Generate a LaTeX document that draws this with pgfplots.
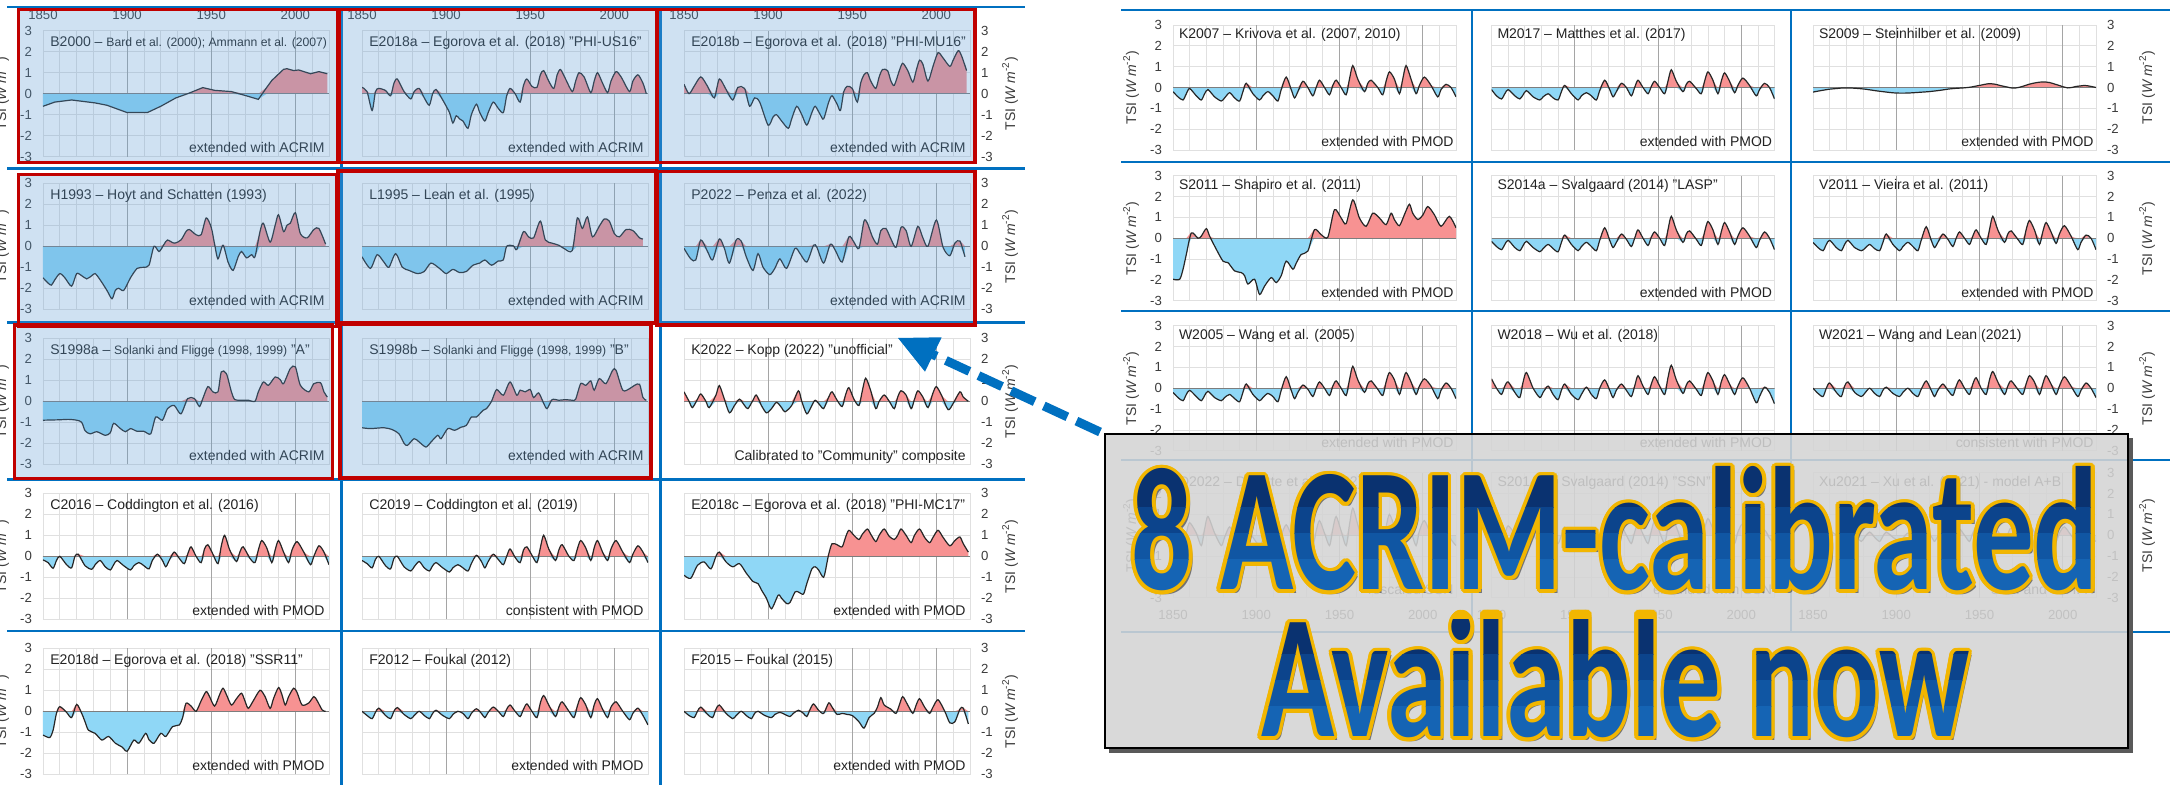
\documentclass[border=0pt]{standalone}
\usepackage{fontspec}
\setmainfont{Liberation Sans}
\newfontfamily\carlito{Carlito}
\usepackage{pgfplots}
\pgfplotsset{compat=1.18}
\usepackage{pgfplotstable}

\definecolor{posc}{RGB}{247,146,146}
\definecolor{negc}{RGB}{143,215,246}
\definecolor{gridc}{RGB}{224,224,224}
\definecolor{majc}{RGB}{165,165,165}
\definecolor{zeroc}{RGB}{125,125,125}
\definecolor{tickc}{RGB}{60,60,60}
\definecolor{titlec}{RGB}{35,35,35}
\definecolor{sepblue}{RGB}{0,112,192}
\definecolor{hlblue}{RGB}{91,155,213}
\definecolor{hlred}{RGB}{192,0,0}
\definecolor{boxgray}{RGB}{212,212,212}
\definecolor{gold}{RGB}{242,182,0}
\definecolor{navA}{RGB}{10,50,112}
\definecolor{navB}{RGB}{12,68,140}
\definecolor{navC}{RGB}{16,86,163}
\definecolor{navD}{RGB}{21,100,180}

% ---------- reconstructed TSI anomaly series (W m^-2) ----------
\pgfplotstableread[row sep=\\]{x y\\
1850 -0.6\\1857 -0.4\\1867 -0.3\\1881 -0.44\\1888 -0.55\\1900 -0.9\\1912 -0.9\\1920 -0.6\\1929 -0.2\\1936 0.0\\1945 0.29\\1952 0.16\\1962 0.1\\1970 -0.08\\1978 -0.27\\1983 0.3\\1986 0.63\\1993 1.16\\1995 1.19\\1999 1.1\\2002 1.13\\2009 0.95\\2014 1.05\\2019 0.95\\}\Bard
\pgfplotstableread[row sep=\\]{x y\\
1850 0.3\\1853 0.1\\1856 -0.8\\1858 0.1\\1860 0.25\\1864 0.15\\1867 -0.1\\1869 0.5\\1871 0.7\\1875 0.1\\1879 -0.25\\1881 0.1\\1884 0.25\\1887 -0.2\\1890 -0.55\\1892 0.0\\1894 0.2\\1898 -0.3\\1902 -0.9\\1904 -1.4\\1906 -1.05\\1908 -1.2\\1910 -1.3\\1913 -1.65\\1915 -1.0\\1918 -0.5\\1920 -0.9\\1923 -1.3\\1925 -0.9\\1928 -0.4\\1931 -0.7\\1934 -0.9\\1936 -0.1\\1938 0.25\\1941 0.0\\1944 -0.4\\1946 0.4\\1948 0.7\\1951 0.35\\1954 0.3\\1956 0.9\\1958 1.1\\1961 0.6\\1964 0.25\\1966 0.9\\1968 1.15\\1971 0.7\\1975 0.1\\1977 0.6\\1979 1.0\\1982 0.8\\1986 0.05\\1988 0.6\\1990 1.0\\1993 0.5\\1996 0.05\\1998 0.6\\2001 1.05\\2004 0.8\\2009 0.1\\2011 0.6\\2014 0.9\\2017 0.5\\2019 0.0\\}\EgoA
\pgfplotstableread[row sep=\\]{x y\\
1850 0.45\\1853 0.0\\1856 0.35\\1860 0.8\\1864 0.35\\1868 -0.2\\1871 0.7\\1875 0.2\\1879 -0.3\\1882 0.3\\1886 0.25\\1889 -0.6\\1892 -0.2\\1895 -0.4\\1900 -1.5\\1903 -1.1\\1905 -1.0\\1908 -1.3\\1912 -1.65\\1914 -1.2\\1917 -0.6\\1920 -1.0\\1923 -1.5\\1926 -0.9\\1928 -0.6\\1931 -1.0\\1933 -1.2\\1936 -0.4\\1938 -0.1\\1941 -0.5\\1943 -0.8\\1945 0.1\\1947 0.35\\1950 0.25\\1953 -0.4\\1955 0.5\\1957 0.9\\1959 1.0\\1961 0.6\\1964 0.25\\1966 0.8\\1968 1.15\\1971 1.1\\1973 0.6\\1975 0.4\\1978 1.1\\1980 1.45\\1983 1.1\\1986 0.55\\1988 1.1\\1990 1.6\\1992 1.4\\1995 0.6\\1998 1.3\\2001 1.95\\2004 1.7\\2008 1.3\\2010 1.6\\2013 2.05\\2015 1.8\\2018 1.1\\}\EgoB
\pgfplotstableread[row sep=\\]{x y\\
1850 -1.5\\1853 -1.75\\1855 -1.85\\1857 -1.6\\1860 -1.3\\1863 -1.5\\1867 -1.9\\1870 -1.3\\1873 -1.4\\1876 -1.55\\1879 -1.4\\1881 -1.3\\1884 -1.6\\1888 -2.1\\1891 -2.5\\1893 -2.1\\1895 -2.0\\1898 -2.1\\1902 -1.5\\1906 -1.05\\1910 -1.0\\1913 -0.9\\1916 0.0\\1919 -0.25\\1922 0.1\\1924 0.3\\1928 0.15\\1932 0.3\\1935 0.7\\1937 0.8\\1941 0.55\\1944 0.55\\1947 1.35\\1950 0.9\\1952 0.1\\1954 -0.6\\1957 0.05\\1960 -0.75\\1963 -1.15\\1966 -0.5\\1968 -0.25\\1971 -0.55\\1974 -0.4\\1976 -0.5\\1979 0.7\\1981 1.1\\1985 0.2\\1988 1.0\\1990 1.5\\1993 0.7\\1995 1.0\\1997 1.1\\2000 1.6\\2003 0.6\\2007 0.4\\2011 0.8\\2014 0.85\\2018 0.1\\}\Hoyt
\pgfplotstableread[row sep=\\]{x y\\
1850 -0.5\\1855 -1.05\\1859 -0.4\\1863 -0.75\\1866 -1.0\\1870 -0.35\\1874 -1.0\\1878 -1.15\\1883 -1.3\\1887 -1.2\\1891 -0.8\\1896 -1.05\\1900 -1.3\\1904 -1.1\\1908 -1.25\\1912 -1.2\\1916 -0.9\\1920 -0.8\\1923 -0.65\\1927 -0.9\\1931 -0.7\\1934 -0.65\\1936 0.0\\1940 0.02\\1942 -0.15\\1946 0.7\\1949 0.45\\1952 0.4\\1956 1.2\\1959 0.3\\1963 0.15\\1967 0.05\\1970 -0.1\\1975 -0.2\\1978 1.35\\1981 0.85\\1984 1.4\\1987 0.45\\1991 0.95\\1994 1.3\\1997 1.2\\2000 0.6\\2003 0.45\\2007 0.8\\2011 0.75\\2015 0.4\\2017 0.35\\}\Lean
\pgfplotstableread[row sep=\\]{x y\\
1850 -0.1\\1854 -0.6\\1857 -0.65\\1860 0.3\\1864 -0.25\\1867 -0.65\\1871 0.35\\1874 -0.1\\1877 -0.8\\1881 0.3\\1884 0.25\\1887 -0.5\\1891 -1.15\\1894 -0.35\\1897 -1.0\\1901 -1.35\\1904 -1.05\\1907 -0.6\\1911 -1.05\\1916 -0.1\\1919 -0.35\\1923 -0.75\\1927 0.05\\1929 -0.05\\1933 -0.8\\1937 0.1\\1940 -0.2\\1944 -0.75\\1948 0.45\\1951 0.2\\1954 -0.1\\1957 1.2\\1959 1.1\\1962 0.45\\1965 0.1\\1967 0.75\\1970 0.85\\1973 0.35\\1976 -0.05\\1979 0.9\\1982 0.75\\1985 0.0\\1989 0.95\\1992 0.4\\1995 0.0\\2000 1.25\\2004 -0.05\\2008 -0.45\\2011 0.15\\2014 0.25\\2017 -0.5\\}\Penza
\pgfplotstableread[row sep=\\]{x y\\
1850 -0.9\\1860 -0.88\\1865 -0.86\\1870 -0.9\\1873 -1.0\\1875 -1.4\\1878 -1.55\\1882 -1.45\\1887 -1.62\\1890 -1.5\\1892 -1.05\\1896 -1.3\\1899 -1.45\\1902 -1.3\\1906 -1.43\\1910 -1.43\\1914 -1.55\\1917 -0.75\\1921 -0.9\\1924 -0.35\\1928 -0.2\\1932 -0.6\\1936 0.13\\1940 0.13\\1943 -0.25\\1945 0.13\\1948 0.7\\1951 0.45\\1954 0.45\\1956 1.4\\1959 1.32\\1962 0.45\\1964 0.08\\1968 0.05\\1972 0.05\\1976 0.0\\1978 0.45\\1981 0.92\\1984 0.76\\1988 1.16\\1991 1.03\\1993 0.84\\1997 1.56\\2000 1.64\\2003 0.76\\2008 0.45\\2011 0.84\\2015 0.88\\2017 0.45\\2019 0.2\\}\SolA
\pgfplotstableread[row sep=\\]{x y\\
1850 -1.26\\1855 -1.3\\1863 -1.26\\1868 -1.35\\1872 -1.55\\1875 -2.0\\1877 -2.1\\1881 -1.78\\1884 -1.94\\1888 -2.18\\1891 -1.94\\1895 -1.62\\1897 -1.78\\1901 -1.3\\1905 -1.38\\1909 -1.23\\1912 -1.15\\1915 -0.75\\1918 -0.75\\1922 -0.43\\1924 -0.35\\1927 0.0\\1930 0.56\\1934 0.29\\1938 0.92\\1942 0.29\\1944 0.53\\1947 0.45\\1950 0.56\\1952 0.18\\1955 0.4\\1958 -0.1\\1960 -0.35\\1963 0.08\\1967 0.05\\1971 0.08\\1975 0.05\\1977 0.1\\1980 0.84\\1983 0.76\\1986 0.97\\1988 0.53\\1991 1.08\\1995 0.84\\1999 1.48\\2001 1.48\\2005 0.53\\2009 0.6\\2012 0.76\\2015 0.81\\2017 0.18\\2019 0.05\\}\SolB
\pgfplotstableread[row sep=\\]{x y\\
1850 0.45\\1853 0.0\\1855 -0.3\\1858 0.1\\1860 0.35\\1863 0.0\\1865 -0.3\\1869 0.3\\1871 0.75\\1874 0.1\\1877 -0.55\\1880 -0.2\\1883 0.1\\1886 -0.2\\1888 -0.35\\1891 0.05\\1893 0.3\\1896 -0.2\\1899 -0.55\\1902 -0.35\\1905 -0.05\\1908 -0.3\\1910 -0.5\\1914 -0.2\\1918 0.5\\1920 0.0\\1923 -0.6\\1926 -0.2\\1928 0.05\\1931 -0.2\\1933 -0.35\\1936 0.2\\1938 0.45\\1941 0.05\\1944 -0.25\\1946 0.3\\1948 0.65\\1951 0.1\\1954 -0.2\\1956 0.5\\1958 1.1\\1961 0.5\\1964 -0.35\\1966 0.0\\1969 0.3\\1972 0.0\\1975 -0.35\\1977 0.2\\1979 0.5\\1982 0.3\\1985 -0.35\\1987 0.1\\1989 0.5\\1992 0.2\\1995 -0.3\\1998 0.4\\2000 0.7\\2003 0.3\\2007 -0.4\\2010 -0.1\\2014 0.45\\2016 0.2\\2019 0.0\\}\Kopp
\pgfplotstableread[row sep=\\]{x y\\
1850 -0.17\\1853 -0.3\\1856 -0.57\\1858 -0.2\\1860 0.0\\1864 -0.4\\1867 -0.55\\1869 0.0\\1871 0.1\\1875 -0.45\\1879 -0.62\\1881 -0.4\\1884 -0.2\\1887 -0.5\\1890 -0.65\\1892 -0.4\\1894 -0.2\\1898 -0.45\\1902 -0.65\\1904 -0.45\\1907 -0.3\\1910 -0.45\\1913 -0.6\\1915 -0.2\\1918 0.1\\1921 -0.2\\1923 -0.5\\1925 -0.2\\1928 0.2\\1931 -0.1\\1934 -0.35\\1936 0.1\\1938 0.45\\1941 0.0\\1944 -0.3\\1946 0.35\\1948 0.55\\1951 0.1\\1954 -0.35\\1956 0.5\\1958 1.0\\1961 0.3\\1965 -0.25\\1967 0.2\\1969 0.45\\1973 -0.1\\1976 -0.3\\1978 0.3\\1980 0.75\\1983 0.4\\1986 -0.3\\1988 0.3\\1990 0.75\\1993 0.2\\1996 -0.3\\1998 0.3\\2001 0.7\\2005 0.2\\2009 -0.4\\2011 0.0\\2014 0.5\\2017 0.2\\2020 -0.4\\}\CodA
\pgfplotstableread[row sep=\\]{x y\\
1850 -0.2\\1853 -0.35\\1856 -0.55\\1858 -0.15\\1860 0.0\\1864 -0.45\\1867 -0.6\\1869 -0.1\\1871 0.0\\1875 -0.5\\1879 -0.7\\1881 -0.5\\1884 -0.25\\1887 -0.55\\1890 -0.7\\1892 -0.45\\1894 -0.3\\1898 -0.55\\1902 -0.75\\1904 -0.55\\1907 -0.4\\1910 -0.55\\1913 -0.7\\1915 -0.35\\1918 0.05\\1921 -0.25\\1923 -0.55\\1925 -0.25\\1928 0.1\\1931 -0.15\\1934 -0.4\\1936 0.0\\1938 0.35\\1941 -0.05\\1944 -0.3\\1946 0.3\\1948 0.45\\1951 0.05\\1954 -0.3\\1956 0.4\\1958 1.0\\1961 0.35\\1965 -0.2\\1967 0.3\\1969 0.55\\1973 0.0\\1976 -0.2\\1978 0.35\\1980 0.75\\1983 0.4\\1986 -0.2\\1988 0.4\\1990 0.75\\1993 0.2\\1996 -0.2\\1998 0.35\\2001 0.75\\2005 0.2\\2009 -0.3\\2011 0.1\\2014 0.5\\2017 0.2\\2020 -0.3\\}\CodB
\pgfplotstableread[row sep=\\]{x y\\
1850 -0.9\\1854 -1.05\\1858 -0.43\\1862 -0.27\\1866 -0.6\\1869 0.0\\1871 0.2\\1875 -0.27\\1879 -0.5\\1883 -0.35\\1887 -0.8\\1891 -1.2\\1894 -1.3\\1896 -1.6\\1899 -2.0\\1902 -2.5\\1906 -1.85\\1908 -2.0\\1911 -2.25\\1913 -2.2\\1916 -1.7\\1918 -1.7\\1921 -1.8\\1923 -1.3\\1926 -0.6\\1928 -0.5\\1930 -0.65\\1933 -1.0\\1935 -0.3\\1936 0.1\\1938 0.6\\1941 0.55\\1944 0.45\\1946 0.9\\1948 1.24\\1951 1.0\\1954 0.8\\1956 1.05\\1959 1.3\\1961 1.05\\1964 0.7\\1966 1.0\\1969 1.3\\1972 0.95\\1975 0.8\\1977 1.0\\1979 1.3\\1982 1.0\\1985 0.65\\1987 1.0\\1990 1.3\\1993 0.9\\1996 0.65\\1998 0.9\\2001 1.24\\2004 0.9\\2008 0.5\\2011 0.75\\2014 0.92\\2016 0.6\\2019 0.2\\}\EgoC
\pgfplotstableread[row sep=\\]{x y\\
1850 -1.13\\1854 -1.25\\1856 -0.9\\1858 -0.1\\1860 0.22\\1864 -0.05\\1867 -0.3\\1870 0.33\\1873 -0.1\\1875 -0.5\\1877 -0.9\\1881 -1.05\\1885 -1.37\\1889 -1.2\\1893 -1.52\\1897 -1.7\\1900 -1.9\\1904 -1.37\\1907 -1.52\\1911 -1.05\\1913 -1.35\\1916 -1.52\\1920 -1.05\\1923 -1.2\\1927 -0.73\\1931 -0.65\\1933 -0.3\\1935 0.38\\1938 0.25\\1941 0.0\\1944 0.5\\1947 0.94\\1949 0.7\\1952 0.25\\1955 0.8\\1957 1.1\\1959 0.8\\1962 0.3\\1965 0.6\\1968 0.86\\1970 0.5\\1972 0.14\\1975 0.5\\1979 1.0\\1982 0.7\\1985 0.14\\1987 0.6\\1990 1.13\\1992 0.8\\1994 0.3\\1996 0.7\\1999 1.1\\2001 0.9\\2004 0.3\\2008 0.4\\2011 0.7\\2013 0.5\\2016 0.06\\2018 0.0\\}\EgoD
\pgfplotstableread[row sep=\\]{x y\\
1850 0.0\\1853 -0.2\\1856 -0.35\\1858 -0.05\\1860 0.15\\1864 -0.2\\1867 -0.35\\1869 0.0\\1871 0.18\\1875 -0.15\\1879 -0.35\\1881 -0.2\\1884 0.0\\1887 -0.2\\1890 -0.35\\1892 -0.1\\1894 0.05\\1898 -0.2\\1902 -0.35\\1904 -0.15\\1907 0.0\\1910 -0.1\\1913 -0.35\\1915 -0.1\\1918 0.12\\1921 -0.1\\1923 -0.3\\1925 -0.05\\1928 0.2\\1931 0.0\\1934 -0.25\\1936 0.1\\1938 0.3\\1941 0.0\\1944 -0.25\\1946 0.1\\1948 0.35\\1951 0.0\\1954 -0.3\\1956 0.4\\1958 0.75\\1961 0.3\\1965 -0.25\\1967 0.2\\1969 0.45\\1973 0.0\\1976 -0.3\\1978 0.25\\1980 0.65\\1983 0.3\\1986 -0.3\\1988 0.3\\1990 0.6\\1993 0.1\\1996 -0.3\\1998 0.2\\2001 0.45\\2005 0.0\\2009 -0.4\\2011 -0.1\\2014 0.15\\2017 -0.2\\2020 -0.65\\}\FouA
\pgfplotstableread[row sep=\\]{x y\\
1850 0.0\\1853 -0.2\\1856 -0.3\\1858 0.0\\1860 0.2\\1864 -0.15\\1867 -0.3\\1869 0.1\\1871 0.3\\1875 -0.1\\1879 -0.35\\1881 -0.2\\1884 0.0\\1887 -0.2\\1890 -0.35\\1892 -0.1\\1894 0.0\\1898 -0.2\\1902 -0.3\\1904 -0.15\\1907 -0.05\\1910 -0.15\\1913 -0.25\\1915 -0.1\\1918 0.05\\1921 -0.1\\1923 -0.25\\1925 0.1\\1927 0.35\\1930 0.05\\1933 -0.1\\1936 0.4\\1938 0.2\\1941 -0.15\\1944 -0.1\\1947 -0.15\\1950 -0.2\\1954 -0.5\\1957 -0.8\\1960 -0.3\\1963 -0.1\\1965 0.2\\1967 0.65\\1969 0.3\\1973 0.1\\1976 -0.1\\1978 0.3\\1980 0.7\\1983 0.3\\1986 -0.1\\1988 0.3\\1990 0.6\\1993 0.2\\1996 -0.1\\1998 0.2\\2001 0.55\\2005 0.0\\2008 -0.55\\2011 -0.5\\2014 0.1\\2016 0.15\\2019 -0.6\\}\FouB
\pgfplotstableread[row sep=\\]{x y\\
1850 -0.2\\1853 -0.45\\1856 -0.6\\1858 -0.3\\1860 -0.05\\1864 -0.4\\1867 -0.6\\1869 -0.3\\1871 -0.1\\1875 -0.45\\1879 -0.65\\1881 -0.5\\1884 -0.25\\1887 -0.5\\1890 -0.65\\1892 -0.2\\1894 0.2\\1898 -0.3\\1902 -0.6\\1904 -0.4\\1907 -0.2\\1910 -0.4\\1913 -0.65\\1915 -0.1\\1918 0.5\\1921 -0.1\\1923 -0.5\\1925 -0.2\\1928 0.3\\1931 0.0\\1934 -0.4\\1936 0.0\\1938 0.35\\1941 0.0\\1944 -0.35\\1946 0.1\\1948 0.35\\1951 0.0\\1954 -0.35\\1956 0.4\\1958 1.05\\1961 0.4\\1965 -0.2\\1967 0.2\\1969 0.35\\1973 0.0\\1976 -0.35\\1978 0.3\\1980 0.75\\1983 0.4\\1986 -0.3\\1988 0.4\\1990 1.05\\1993 0.4\\1996 -0.3\\1998 0.1\\2001 0.5\\2005 0.1\\2009 -0.45\\2011 -0.1\\2014 0.15\\2017 0.0\\2020 -0.45\\}\Kriv
\pgfplotstableread[row sep=\\]{x y\\
1850 -0.1\\1853 -0.4\\1856 -0.55\\1858 -0.3\\1860 -0.1\\1864 -0.4\\1867 -0.55\\1869 -0.35\\1871 -0.15\\1875 -0.45\\1879 -0.6\\1881 -0.45\\1884 -0.3\\1887 -0.5\\1890 -0.6\\1892 -0.2\\1894 0.1\\1898 -0.3\\1902 -0.6\\1904 -0.4\\1907 -0.25\\1910 -0.4\\1913 -0.6\\1915 -0.15\\1918 0.35\\1921 -0.1\\1923 -0.45\\1925 -0.2\\1928 0.2\\1931 0.0\\1934 -0.4\\1936 0.0\\1938 0.35\\1941 0.0\\1944 -0.3\\1946 0.05\\1948 0.3\\1951 0.0\\1954 -0.3\\1956 0.3\\1958 0.85\\1961 0.3\\1965 -0.2\\1967 0.15\\1969 0.3\\1973 -0.05\\1976 -0.3\\1978 0.3\\1980 0.75\\1983 0.35\\1986 -0.3\\1988 0.3\\1990 0.7\\1993 0.3\\1996 -0.25\\1998 0.1\\2001 0.45\\2005 0.1\\2009 -0.4\\2011 -0.1\\2014 0.2\\2017 0.0\\2020 -0.55\\}\Matt
\pgfplotstableread[row sep=\\]{x y\\
1850 -0.22\\1860 -0.08\\1868 -0.02\\1879 -0.06\\1890 -0.18\\1902 -0.27\\1916 -0.22\\1925 -0.15\\1933 -0.06\\1943 0.0\\1950 0.1\\1957 0.18\\1965 0.05\\1972 -0.02\\1982 0.2\\1990 0.26\\1997 0.12\\2003 -0.02\\2008 0.05\\2013 0.1\\2020 0.0\\}\Stein
\pgfplotstableread[row sep=\\]{x y\\
1850 -1.97\\1854 -1.97\\1856 -1.5\\1858 -0.78\\1861 0.25\\1865 0.0\\1867 0.1\\1870 0.46\\1872 0.1\\1875 -0.38\\1880 -1.1\\1883 -1.17\\1887 -1.57\\1891 -1.65\\1893 -1.8\\1895 -2.2\\1899 -1.97\\1902 -2.7\\1905 -2.3\\1909 -1.89\\1912 -2.13\\1915 -1.8\\1918 -1.1\\1922 -1.49\\1924 -1.2\\1927 -0.78\\1931 -0.62\\1935 0.41\\1939 0.17\\1943 0.05\\1947 1.37\\1951 0.97\\1954 0.7\\1958 1.84\\1962 0.97\\1966 0.57\\1970 1.2\\1974 0.97\\1978 0.65\\1981 1.2\\1983 0.89\\1986 0.6\\1989 1.13\\1992 1.63\\1994 1.2\\1997 0.9\\2000 1.1\\2003 1.52\\2007 1.13\\2011 0.57\\2016 1.05\\2020 0.5\\}\Shap
\pgfplotstableread[row sep=\\]{x y\\
1850 -0.15\\1853 -0.4\\1856 -0.55\\1858 -0.3\\1860 -0.1\\1864 -0.45\\1867 -0.6\\1869 -0.35\\1871 -0.15\\1875 -0.45\\1879 -0.65\\1881 -0.5\\1884 -0.3\\1887 -0.5\\1890 -0.65\\1892 -0.2\\1894 0.15\\1898 -0.3\\1902 -0.6\\1904 -0.4\\1907 -0.2\\1910 -0.4\\1913 -0.6\\1915 -0.1\\1918 0.5\\1921 -0.1\\1923 -0.45\\1925 -0.2\\1928 0.2\\1931 -0.05\\1934 -0.4\\1936 0.0\\1938 0.4\\1941 0.0\\1944 -0.35\\1946 0.05\\1948 0.3\\1951 0.0\\1954 -0.35\\1956 0.4\\1958 1.05\\1961 0.4\\1965 -0.2\\1967 0.2\\1969 0.35\\1973 -0.05\\1976 -0.35\\1978 0.3\\1980 0.8\\1983 0.4\\1986 -0.3\\1988 0.3\\1990 0.75\\1993 0.3\\1996 -0.3\\1998 0.1\\2001 0.5\\2005 0.1\\2009 -0.45\\2011 -0.1\\2014 0.3\\2017 0.0\\2020 -0.55\\}\SvaA
\pgfplotstableread[row sep=\\]{x y\\
1850 -0.2\\1853 -0.45\\1856 -0.6\\1858 -0.3\\1860 -0.1\\1864 -0.45\\1867 -0.6\\1869 -0.3\\1871 -0.1\\1875 -0.45\\1879 -0.6\\1881 -0.5\\1884 -0.3\\1887 -0.5\\1890 -0.6\\1892 -0.2\\1894 0.2\\1898 -0.3\\1902 -0.6\\1904 -0.4\\1907 -0.2\\1910 -0.4\\1913 -0.6\\1915 -0.1\\1918 0.55\\1921 -0.1\\1923 -0.45\\1925 -0.2\\1928 0.2\\1931 -0.05\\1934 -0.4\\1936 0.0\\1938 0.3\\1941 0.0\\1944 -0.3\\1946 0.1\\1948 0.4\\1951 0.0\\1954 -0.3\\1956 0.4\\1958 1.05\\1961 0.4\\1965 -0.2\\1967 0.2\\1969 0.35\\1973 -0.05\\1976 -0.3\\1978 0.4\\1980 0.85\\1983 0.4\\1986 -0.3\\1988 0.3\\1990 0.75\\1993 0.3\\1996 -0.25\\1998 0.2\\2001 0.6\\2005 0.1\\2009 -0.55\\2011 -0.2\\2014 0.15\\2017 0.0\\2020 -0.55\\}\Vieira
\pgfplotstableread[row sep=\\]{x y\\
1850 -0.2\\1853 -0.45\\1856 -0.6\\1858 -0.3\\1860 -0.1\\1864 -0.4\\1867 -0.6\\1869 -0.35\\1871 -0.15\\1875 -0.45\\1879 -0.6\\1881 -0.45\\1884 -0.3\\1887 -0.5\\1890 -0.65\\1892 -0.2\\1894 0.2\\1898 -0.3\\1902 -0.6\\1904 -0.45\\1907 -0.25\\1910 -0.4\\1913 -0.65\\1915 -0.1\\1918 0.55\\1921 -0.1\\1923 -0.5\\1925 -0.2\\1928 0.15\\1931 -0.05\\1934 -0.4\\1936 0.0\\1938 0.3\\1941 0.0\\1944 -0.35\\1946 0.1\\1948 0.35\\1951 0.0\\1954 -0.35\\1956 0.4\\1958 1.05\\1961 0.4\\1965 -0.2\\1967 0.2\\1969 0.35\\1973 -0.05\\1976 -0.35\\1978 0.3\\1980 0.75\\1983 0.4\\1986 -0.3\\1988 0.3\\1990 0.75\\1993 0.3\\1996 -0.3\\1998 0.1\\2001 0.45\\2005 0.1\\2009 -0.5\\2011 -0.1\\2014 0.25\\2017 0.0\\2020 -0.5\\}\WangA
\pgfplotstableread[row sep=\\]{x y\\
1850 0.45\\1853 0.0\\1856 -0.3\\1858 0.1\\1860 0.3\\1864 -0.2\\1867 -0.45\\1869 0.3\\1871 0.75\\1875 0.0\\1879 -0.45\\1881 -0.2\\1884 0.1\\1887 -0.3\\1890 -0.55\\1892 -0.1\\1894 0.2\\1898 -0.3\\1902 -0.55\\1904 -0.3\\1907 0.05\\1910 -0.3\\1913 -0.5\\1915 0.0\\1918 0.4\\1921 -0.1\\1923 -0.45\\1925 -0.1\\1928 0.2\\1931 -0.1\\1934 -0.4\\1936 0.1\\1938 0.6\\1941 0.1\\1944 -0.3\\1946 0.2\\1948 0.55\\1951 0.1\\1954 -0.3\\1956 0.5\\1958 1.1\\1961 0.4\\1965 -0.25\\1967 0.15\\1969 0.35\\1973 -0.05\\1976 -0.35\\1978 0.3\\1980 0.75\\1983 0.35\\1986 -0.3\\1988 0.3\\1990 0.65\\1993 0.2\\1996 -0.3\\1998 0.1\\2001 0.5\\2005 0.0\\2009 -0.7\\2011 -0.4\\2014 0.05\\2017 -0.2\\2020 -0.75\\}\Wu
\pgfplotstableread[row sep=\\]{x y\\
1850 0.0\\1853 -0.25\\1856 -0.4\\1858 0.0\\1860 0.25\\1864 -0.2\\1867 -0.4\\1869 0.1\\1871 0.3\\1875 -0.2\\1879 -0.4\\1881 -0.25\\1884 0.0\\1887 -0.25\\1890 -0.4\\1892 -0.1\\1894 0.05\\1898 -0.25\\1902 -0.4\\1904 -0.2\\1907 0.0\\1910 -0.25\\1913 -0.4\\1915 -0.05\\1918 0.35\\1921 -0.1\\1923 -0.4\\1925 -0.1\\1928 0.2\\1931 -0.1\\1934 -0.35\\1936 0.1\\1938 0.4\\1941 0.0\\1944 -0.3\\1946 0.2\\1948 0.5\\1951 0.0\\1954 -0.3\\1956 0.4\\1958 0.8\\1961 0.3\\1965 -0.3\\1967 0.1\\1969 0.35\\1973 -0.05\\1976 -0.3\\1978 0.2\\1980 0.6\\1983 0.3\\1986 -0.3\\1988 0.2\\1990 0.6\\1993 0.2\\1996 -0.3\\1998 0.1\\2001 0.55\\2005 0.1\\2009 -0.4\\2011 -0.1\\2014 0.25\\2017 0.0\\2020 -0.45\\}\WangB
\pgfplotstableread[row sep=\\]{x y\\
1850 0.2\\1853 -0.2\\1856 -0.5\\1858 0.1\\1860 0.6\\1864 0.1\\1867 -0.5\\1869 0.3\\1871 0.9\\1875 0.1\\1879 -0.5\\1881 -0.1\\1884 0.4\\1887 -0.1\\1890 -0.5\\1892 0.0\\1894 0.5\\1898 -0.1\\1902 -0.5\\1904 -0.2\\1907 0.3\\1910 -0.1\\1913 -0.5\\1915 0.0\\1918 0.5\\1921 0.0\\1923 -0.5\\1925 0.0\\1928 0.5\\1931 0.0\\1934 -0.5\\1936 0.2\\1938 0.7\\1941 0.1\\1944 -0.5\\1946 0.3\\1948 0.9\\1951 0.2\\1954 -0.5\\1956 0.5\\1958 1.3\\1961 0.5\\1965 -0.5\\1967 0.2\\1969 0.7\\1973 0.0\\1976 -0.5\\1978 0.4\\1980 1.0\\1983 0.4\\1986 -0.5\\1988 0.4\\1990 1.0\\1993 0.2\\1996 -0.5\\1998 0.2\\2001 0.7\\2005 0.0\\2009 -0.55\\2011 -0.2\\2014 0.3\\2017 -0.2\\2020 -0.5\\}\Dew
\pgfplotstableread[row sep=\\]{x y\\
1850 0.15\\1853 -0.15\\1856 -0.4\\1858 0.05\\1860 0.45\\1864 0.05\\1867 -0.4\\1869 0.2\\1871 0.7\\1875 0.05\\1879 -0.4\\1881 -0.1\\1884 0.3\\1887 -0.1\\1890 -0.4\\1892 0.0\\1894 0.4\\1898 -0.1\\1902 -0.4\\1904 -0.15\\1907 0.25\\1910 -0.1\\1913 -0.4\\1915 0.0\\1918 0.4\\1921 0.0\\1923 -0.4\\1925 0.0\\1928 0.4\\1931 0.0\\1934 -0.4\\1936 0.15\\1938 0.55\\1941 0.05\\1944 -0.4\\1946 0.2\\1948 0.7\\1951 0.15\\1954 -0.4\\1956 0.4\\1958 1.0\\1961 0.4\\1965 -0.4\\1967 0.15\\1969 0.55\\1973 0.0\\1976 -0.4\\1978 0.3\\1980 0.8\\1983 0.3\\1986 -0.4\\1988 0.3\\1990 0.75\\1993 0.15\\1996 -0.4\\1998 0.15\\2001 0.55\\2005 0.0\\2009 -0.45\\2011 -0.15\\2014 0.25\\2017 -0.15\\2020 -0.4\\}\SvaB
\pgfplotstableread[row sep=\\]{x y\\
1850 0.05\\1853 -0.1\\1856 -0.3\\1858 0.0\\1860 0.2\\1864 0.0\\1867 -0.3\\1869 0.05\\1871 0.3\\1875 0.0\\1879 -0.3\\1881 -0.1\\1884 0.15\\1887 -0.1\\1890 -0.3\\1892 -0.05\\1894 0.15\\1898 -0.1\\1902 -0.3\\1904 -0.15\\1907 0.1\\1910 -0.1\\1913 -0.3\\1915 -0.05\\1918 0.2\\1921 -0.05\\1923 -0.3\\1925 -0.05\\1928 0.2\\1931 0.0\\1934 -0.3\\1936 0.05\\1938 0.3\\1941 0.0\\1944 -0.3\\1946 0.1\\1948 0.4\\1951 0.05\\1954 -0.3\\1956 0.2\\1958 0.55\\1961 0.2\\1965 -0.3\\1967 0.05\\1969 0.35\\1973 0.0\\1976 -0.3\\1978 0.15\\1980 0.5\\1983 0.15\\1986 -0.3\\1988 0.15\\1990 0.5\\1993 0.1\\1996 -0.3\\1998 0.1\\2001 0.4\\2005 0.0\\2009 -0.35\\2011 -0.1\\2014 0.2\\2017 -0.1\\2020 -0.3\\}\Xu

% ---------- panel styles ----------
\pgfplotsset{
  tsipanel/.style={
    scale only axis, anchor=north west,
    xmin=1850, xmax=2020, ymin=-3, ymax=3,
    xtick={1850,1900,1950,2000}, xticklabels={},
    minor xtick={1860,1870,...,2010},
    ytick={-3,-2,...,3}, yticklabels={},
    major tick length=0pt, minor tick length=0pt,
    xminorgrids=true, ymajorgrids=true, xmajorgrids=false,
    minor grid style={draw=gridc, line width=0.35pt},
    major grid style={draw=gridc, line width=0.35pt},
    extra x ticks={1900,1950,2000}, extra x tick labels={},
    extra x tick style={grid=major, major grid style={draw=majc, line width=0.4pt}},
    axis line style={draw=gridc, line width=0.4pt},
    tick label style={font=\fontsize{6.6}{7}\selectfont, text=tickc},
  },
  ylabL/.style={yticklabels={-3,-2,-1,0,1,2,3}, yticklabel pos=left, yticklabel style={xshift=-2pt}},
  ylabR/.style={yticklabels={-3,-2,-1,0,1,2,3}, yticklabel pos=right, yticklabel style={xshift=2pt}},
  xlabT/.style={xticklabels={1850,1900,1950,2000}, xticklabel pos=upper, xticklabel style={yshift=2pt}},
  xlabB/.style={xticklabels={1850,1900,1950,2000}, xticklabel pos=lower, xticklabel style={yshift=-3pt}},
  left panel/.style={tsipanel, width=143pt, height=63pt},
  right panel/.style={tsipanel, width=141.5pt, height=62.5pt},
}
\tikzset{
  curve/.style={draw=black!85, line width=0.6pt},
  tsilab/.style={rotate=90, text=tickc, font=\fontsize{7}{8}\selectfont},
}
\newcommand{\smallpart}{\fontsize{6.1}{7}\selectfont}
\newcommand{\tsitext}{TSI ({\itshape W m}\textsuperscript{-2})}

% #1 style, #2 x px, #3 y px, #4 axis options, #5 plot options, #6 table, #7 title, #8 note
\newcommand{\panel}[8]{%
  \begin{axis}[#1, at={(#2*0.5pt,-#3*0.5pt)}, #4]
    \addplot[draw=none, fill=posc, smooth, tension=0.45, #5] table[x index=0, y expr={max(\thisrowno{1},0)}] {#6} \closedcycle;
    \addplot[draw=none, fill=negc, smooth, tension=0.45, #5] table[x index=0, y expr={min(\thisrowno{1},0)}] {#6} \closedcycle;
    \draw[zeroc, line width=0.6pt] (rel axis cs:0,0.5) -- (rel axis cs:1,0.5);
    \addplot[curve, smooth, tension=0.45, #5] table[x index=0, y index=1] {#6};
    \node[ttl] at (rel axis cs:0,1) {#7};
    \node[nte] at (rel axis cs:1,0) {#8};
  \end{axis}}

\begin{document}
\begin{tikzpicture}
\useasboundingbox (0,0) rectangle (1085pt,-392.5pt);
\fill[white] (0,0) rectangle (1085pt,-392.5pt);

% ---------- left block: 15 reconstructions ----------
\tikzset{
  ttl/.style={anchor=base west, xshift=3.5pt, yshift=-8pt, inner sep=0pt, text=titlec, font=\fontsize{7}{8}\selectfont},
  nte/.style={anchor=base east, xshift=-2pt, yshift=2pt, inner sep=0pt, text=titlec, font=\fontsize{7}{8}\selectfont},
}
\panel{left panel}{43}{30.7}{ylabL,xlabT}{sharp plot}{\Bard}{B2000 – {\smallpart Bard et al. (2000); Ammann et al. (2007)}}{extended with ACRIM}
\panel{left panel}{362}{30.7}{xlabT}{}{\EgoA}{E2018a – Egorova et al. (2018) "PHI-US16"}{extended with ACRIM}
\panel{left panel}{684}{30.7}{ylabR,xlabT}{}{\EgoB}{E2018b – Egorova et al. (2018) "PHI-MU16"}{extended with ACRIM}

\panel{left panel}{43}{183.3}{ylabL}{}{\Hoyt}{H1993 – Hoyt and Schatten (1993)}{extended with ACRIM}
\panel{left panel}{362}{183.3}{}{}{\Lean}{L1995 – Lean et al. (1995)}{extended with ACRIM}
\panel{left panel}{684}{183.3}{ylabR}{}{\Penza}{P2022 – Penza et al. (2022)}{extended with ACRIM}

\panel{left panel}{43}{338.3}{ylabL}{}{\SolA}{S1998a – {\smallpart Solanki and Fligge (1998, 1999)} "A"}{extended with ACRIM}
\panel{left panel}{362}{338.3}{}{}{\SolB}{S1998b – {\smallpart Solanki and Fligge (1998, 1999)} "B"}{extended with ACRIM}
\panel{left panel}{684}{338.3}{ylabR}{}{\Kopp}{K2022 – Kopp (2022) "unofficial"}{Calibrated to "Community" composite}

\panel{left panel}{43}{493.3}{ylabL}{}{\CodA}{C2016 – Coddington et al. (2016)}{extended with PMOD}
\panel{left panel}{362}{493.3}{}{}{\CodB}{C2019 – Coddington et al. (2019)}{consistent with PMOD}
\panel{left panel}{684}{493.3}{ylabR}{}{\EgoC}{E2018c – Egorova et al. (2018) "PHI-MC17"}{extended with PMOD}

\panel{left panel}{43}{648.3}{ylabL}{}{\EgoD}{E2018d – Egorova et al. (2018) "SSR11"}{extended with PMOD}
\panel{left panel}{362}{648.3}{}{}{\FouA}{F2012 – Foukal (2012)}{extended with PMOD}
\panel{left panel}{684}{648.3}{ylabR}{}{\FouB}{F2015 – Foukal (2015)}{extended with PMOD}

% ---------- right block: 12 reconstructions ----------
\tikzset{
  ttl/.style={anchor=base west, xshift=2.8pt, yshift=-6.8pt, inner sep=0pt, text=titlec, font=\fontsize{7}{8}\selectfont},
  nte/.style={anchor=base east, xshift=-1pt, yshift=1.8pt, inner sep=0pt, text=titlec, font=\fontsize{7}{8}\selectfont},
}
\panel{right panel}{1173}{25}{ylabL}{}{\Kriv}{K2007 – Krivova et al. (2007, 2010)}{extended with PMOD}
\panel{right panel}{1491.5}{25}{}{}{\Matt}{M2017 – Matthes et al. (2017)}{extended with PMOD}
\panel{right panel}{1813}{25}{ylabR}{tension=0.7}{\Stein}{S2009 – Steinhilber et al. (2009)}{extended with PMOD}

\panel{right panel}{1173}{175.7}{ylabL}{}{\Shap}{S2011 – Shapiro et al. (2011)}{extended with PMOD}
\panel{right panel}{1491.5}{175.7}{}{}{\SvaA}{S2014a – Svalgaard (2014) "LASP"}{extended with PMOD}
\panel{right panel}{1813}{175.7}{ylabR}{}{\Vieira}{V2011 – Vieira et al. (2011)}{extended with PMOD}

\panel{right panel}{1173}{325.7}{ylabL}{}{\WangA}{W2005 – Wang et al. (2005)}{extended with PMOD}
\panel{right panel}{1491.5}{325.7}{}{}{\Wu}{W2018 – Wu et al. (2018)}{extended with PMOD}
\panel{right panel}{1813}{325.7}{ylabR}{}{\WangB}{W2021 – Wang and Lean (2021)}{consistent with PMOD}

\panel{right panel}{1173}{472.7}{ylabL,xlabB}{}{\Dew}{D2022 – Dewitte et al. (2022)}{rescaled SSN}
\panel{right panel}{1491.5}{472.7}{xlabB}{}{\SvaB}{S2014b – Svalgaard (2014) "SSN"}{extended with SSN}
\panel{right panel}{1813}{472.7}{ylabR,xlabB}{}{\Xu}{Xu2021 – Xu et al. (2021) - model A+B}{SSN and Ca II K}

\begin{scope}[x=0.5pt,y=-0.5pt]
  % axis titles
  \foreach \c in {93.7,246.3,401.3,556.3,711.3}{
    \node[tsilab] at (1010,\c) {\tsitext};
    \node[tsilab] at (1,\c) {\tsitext};
  }
  \foreach \c in {87.5,238.2,388.2,535.2}{
    \node[tsilab] at (1131,\c) {\tsitext};
    \node[tsilab] at (2147,\c) {\tsitext};
  }
  % grid separators
  \foreach \yy in {7,168.5,322.5,479.5,631}{\draw[sepblue, line width=1.3pt] (7,\yy) -- (1025,\yy);}
  \foreach \xx in {341.5,660.7}{\draw[sepblue, line width=1.3pt] (\xx,7) -- (\xx,785);}
  \foreach \yy in {10,162,311,460,632}{\draw[sepblue, line width=1.3pt] (1121,\yy) -- (2170,\yy);}
  \foreach \xx in {1472,1791}{\draw[sepblue, line width=1.3pt] (\xx,10) -- (\xx,632);}
  % ACRIM-calibrated highlights
  \foreach \xa/\ya/\xb/\yb in {18.75/9.3/338/162.7, 339/9.3/657/162.7, 657/9.3/975/162.7,
      18.75/174.3/337/326.7, 338/171/656/323, 657/171.7/975/325,
      14.3/325/332.6/478.3, 340/324/651/478}{
    \fill[hlblue, opacity=0.29] (\xa,\ya) rectangle (\xb,\yb);
  }
  \foreach \xa/\ya/\xb/\yb in {18.75/9.3/338/162.7, 339/9.3/657/162.7, 657/9.3/975/162.7,
      18.75/174.3/337/326.7, 338/171/656/323, 657/171.7/975/325,
      14.3/325/332.6/478.3, 340/324/651/478}{
    \draw[hlred, line width=1.6pt] (\xa,\ya) rectangle (\xb,\yb);
  }
  % pointer
  \draw[sepblue, line width=4.5pt, dash pattern=on 13pt off 5pt] (1100,432) -- (933,354.5);
  \fill[sepblue] (898,338) -- (941.7,337.3) -- (925,371.7) -- cycle;
  % banner
  \fill[black!65] (1109,748) rectangle (2132,753);
  \fill[black!65] (2128,438) rectangle (2133,753);
  \fill[boxgray, opacity=0.88] (1105,434) rectangle (2128,748);
  \draw[black, line width=1.2pt] (1105,434) rectangle (2128,748);
  \tikzset{wa/.style={anchor=base, inner sep=0pt, font=\carlito\bfseries\fontsize{60.5}{60.5}\selectfont}}
  \foreach \t/\yb in {{8 ACRIM-calibrated}/590, {Available now}/737}{
    \node[wa, text=black!55, shift={(1.8pt,-1.8pt)}] at (1615,\yb) {\scalebox{1}[1.45]{\t}};
    \foreach \a in {0,22.5,...,337.5}{
      \node[wa, text=gold, shift={(\a:1.8pt)}] at (1615,\yb) {\scalebox{1}[1.45]{\t}};
    }
  }
  \foreach \c/\ya/\yb in {navA/420/508, navB/508/534, navC/534/560, navD/560/620}{
    \begin{scope}
      \clip (1100,\ya) rectangle (2140,\yb);
      \node[wa, text=\c] at (1615,590) {\scalebox{1}[1.45]{8 ACRIM-calibrated}};
    \end{scope}
  }
  \foreach \c/\ya/\yb in {navA/620/655, navB/655/681, navC/681/707, navD/707/770}{
    \begin{scope}
      \clip (1100,\ya) rectangle (2140,\yb);
      \node[wa, text=\c] at (1615,737) {\scalebox{1}[1.45]{Available now}};
    \end{scope}
  }
\end{scope}
\end{tikzpicture}
\end{document}
